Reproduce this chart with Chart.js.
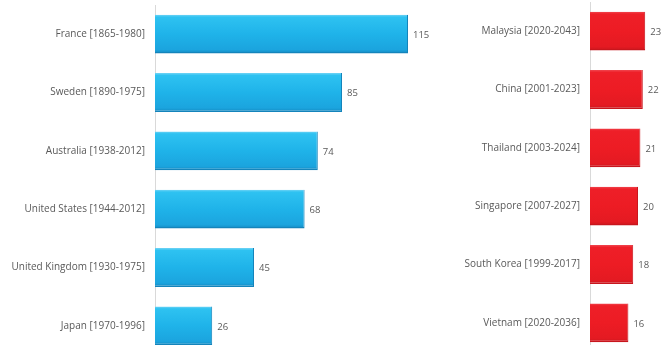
<!DOCTYPE html>
<html>
<head>
<meta charset="utf-8">
<script src="https://cdn.jsdelivr.net/npm/chart.js@4.4.1/dist/chart.umd.min.js"></script>
<style>
  html, body { margin: 0; padding: 0; background: #ffffff; overflow: hidden; width: 663px; height: 345px; }
  .panel { position: absolute; }
  #leftBox { left: 0; top: 5px; width: 441px; height: 350px; }
  #rightBox { left: 445px; top: 2px; width: 217px; height: 350px; }
</style>
</head>
<body>
<div class="panel" id="leftBox"><canvas id="left"></canvas></div>
<div class="panel" id="rightBox"><canvas id="right"></canvas></div>
<script>
// Years taken, by country and period
const earlyCountries = ['France [1865-1980]', 'Sweden [1890-1975]', 'Australia [1938-2012]',
  'United States [1944-2012]', 'United Kingdom [1930-1975]', 'Japan [1970-1996]'];
const earlyYears = [115, 85, 74, 68, 45, 26];

const asianCountries = ['Malaysia [2020-2043]', 'China [2001-2023]', 'Thailand [2003-2024]',
  'Singapore [2007-2027]', 'South Korea [1999-2017]', 'Vietnam [2020-2036]'];
const asianYears = [23, 22, 21, 20, 18, 16];

const FONT = "'Open Sans', 'DejaVu Sans', sans-serif";
const TEXT = '#595959';
const BAR_SHARE = 0.665;

// Shaded fill for each bar: bright top rim, body, darker lower edge
function barGradient(stops) {
  return function (ctx) {
    const chart = ctx.chart;
    const y = chart.scales.y;
    if (!chart.chartArea || !y || ctx.dataIndex === undefined) return stops[1][1];
    const band = Math.abs(y.getPixelForValue(1) - y.getPixelForValue(0));
    const c = y.getPixelForValue(ctx.dataIndex);
    const half = band * BAR_SHARE / 2;
    const g = chart.ctx.createLinearGradient(0, c - half, 0, c + half);
    stops.forEach(s => g.addColorStop(s[0], s[1]));
    return g;
  };
}

// Value written just past the end of each bar
const valueLabels = {
  id: 'valueLabels',
  afterDatasetsDraw(chart) {
    const ctx = chart.ctx;
    const meta = chart.getDatasetMeta(0);
    ctx.save();
    ctx.font = '9.5px ' + FONT;
    ctx.fillStyle = TEXT;
    ctx.textAlign = 'left';
    ctx.textBaseline = 'middle';
    meta.data.forEach((bar, i) => {
      ctx.fillText(String(chart.data.datasets[0].data[i]), bar.x + 5, bar.y + 1);
    });
    ctx.restore();
  }
};

function makeChart(id, labels, values, xMax, axisWidth, fill, edge) {
  return new Chart(document.getElementById(id), {
    type: 'bar',
    data: {
      labels: labels,
      datasets: [{
        data: values,
        backgroundColor: barGradient(fill),
        borderColor: edge,
        borderWidth: { top: 0, right: 1, bottom: 1.5, left: 0 },
        borderSkipped: false,
        categoryPercentage: 1,
        barPercentage: BAR_SHARE
      }]
    },
    options: {
      indexAxis: 'y',
      responsive: true,
      maintainAspectRatio: false,
      animation: false,
      layout: { padding: 0 },
      plugins: { legend: { display: false }, tooltip: { enabled: false } },
      scales: {
        x: {
          display: false,
          min: 0,
          max: xMax
        },
        y: {
          grid: { display: false, drawTicks: false },
          border: { display: true, color: '#d9d9d9', width: 1 },
          ticks: {
            color: TEXT,
            padding: 10,
            font: { family: FONT, size: 10 }
          },
          afterFit(scale) {
            scale.width = axisWidth;
            scale.paddingTop = 0;
            scale.paddingBottom = 0;
          }
        }
      }
    },
    plugins: [valueLabels]
  });
}

makeChart('left', earlyCountries, earlyYears, 130, 155,
  [[0, '#6fd3f5'], [0.06, '#2ec2f1'], [0.5, '#1fb3e9'], [0.9, '#1ba4de'], [1, '#1388c0']],
  '#1484bb');

makeChart('right', asianCountries, asianYears, 30, 145,
  [[0, '#f0444d'], [0.06, '#ee1f28'], [0.5, '#ed1c24'], [0.9, '#e41a22'], [1, '#c9161d']],
  '#c8161d');
</script>
</body>
</html>
